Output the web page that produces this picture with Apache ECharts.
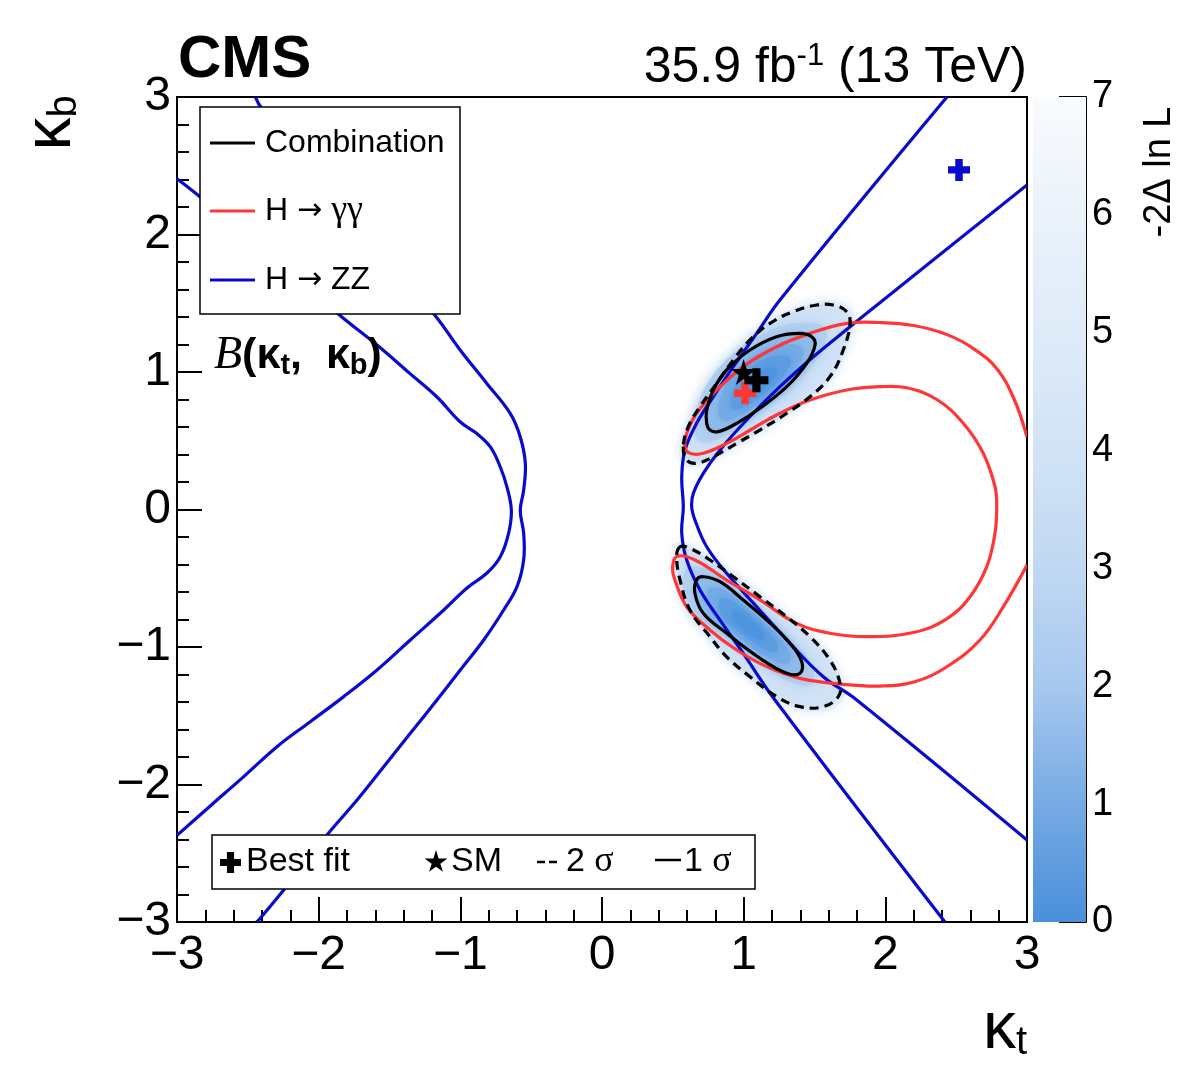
<!DOCTYPE html>
<html>
<head>
<meta charset="utf-8">
<script src="https://cdn.jsdelivr.net/npm/echarts@6/dist/echarts.min.js"></script>
<style>html,body{margin:0;padding:0;background:#fff;}#c{width:1182px;height:1086px;}</style>
</head>
<body>
<div id="c"></div>
<script>
// ---------- data (kappa_t, kappa_b) ----------
const xTicks = [-3, -2, -1, 0, 1, 2, 3];
const yTicks = [-3, -2, -1, 0, 1, 2, 3];
const zTicks = [0, 1, 2, 3, 4, 5, 6, 7];

const zzInnerLeft = [[-2.447,3.0],[-2.40,2.915],[-1.188,1.424],[-1.0,1.158],[-0.812,0.915],[-0.647,0.697],[-0.577,0.527],[-0.541,0.333],[-0.553,0.14],[-0.577,-0.006],[-0.553,-0.173],[-0.553,-0.367],[-0.60,-0.561],[-0.694,-0.731],[-0.835,-0.949],[-1.0,-1.167],[-1.165,-1.385],[-1.353,-1.628],[-1.541,-1.871],[-1.729,-2.113],[-1.941,-2.367],[-2.247,-2.767],[-2.423,-2.985],[-2.44,-3.0]];
const zzOuterLeft = [[-3.0,2.406],[-2.836,2.273],[-1.847,1.409],[-1.588,1.196],[-1.355,0.988],[-1.165,0.818],[-1.0,0.636],[-0.882,0.551],[-0.788,0.455],[-0.718,0.309],[-0.671,0.164],[-0.64,-0.004],[-0.659,-0.171],[-0.718,-0.343],[-0.812,-0.462],[-0.953,-0.571],[-1.117,-0.731],[-1.353,-0.949],[-1.588,-1.167],[-1.823,-1.361],[-2.059,-1.543],[-2.294,-1.725],[-2.529,-1.943],[-2.765,-2.156],[-3.0,-2.37]];
const zzRightOuter = [[2.435,3.0],[1.256,1.524],[1.092,1.281],[0.927,1.039],[0.786,0.82],[0.668,0.627],[0.586,0.433],[0.563,0.239],[0.574,0.02],[0.563,-0.173],[0.598,-0.367],[0.692,-0.585],[0.833,-0.804],[0.997,-1.046],[1.221,-1.385],[2.421,-3.0]];
const zzRightInner = [[3.0,2.36],[1.986,1.524],[1.751,1.329],[1.492,1.111],[1.256,0.893],[1.021,0.651],[0.833,0.433],[0.715,0.263],[0.645,0.118],[0.633,0.02],[0.656,-0.076],[0.739,-0.271],[0.88,-0.464],[1.092,-0.707],[1.327,-0.973],[1.562,-1.216],[1.798,-1.385],[3.0,-2.404]];
const ggContour = [[3.0,0.527],[2.91,0.80],[2.79,1.02],[2.63,1.165],[2.44,1.27],[2.2,1.338],[1.962,1.36],[1.727,1.354],[1.468,1.281],[1.233,1.184],[0.997,1.039],[0.81,0.869],[0.668,0.70],[0.598,0.554],[0.586,0.457],[0.621,0.409],[0.715,0.409],[0.88,0.481],[1.068,0.591],[1.256,0.70],[1.468,0.796],[1.727,0.869],[1.962,0.893],[2.151,0.885],[2.363,0.80],[2.55,0.627],[2.691,0.409],[2.774,0.166],[2.786,0.02],[2.774,-0.173],[2.716,-0.416],[2.598,-0.634],[2.433,-0.795],[2.197,-0.895],[1.868,-0.925],[1.609,-0.90],[1.374,-0.828],[1.115,-0.658],[0.88,-0.513],[0.656,-0.367],[0.53,-0.34],[0.498,-0.42],[0.515,-0.513],[0.598,-0.707],[0.762,-0.876],[0.951,-1.022],[1.163,-1.143],[1.398,-1.228],[1.68,-1.269],[1.962,-1.284],[2.2,-1.255],[2.44,-1.14],[2.668,-0.949],[2.833,-0.707],[3.0,-0.404]];
const comb1sTop = [[0.739,0.627],[0.762,0.578],[0.821,0.566],[0.951,0.627],[1.115,0.736],[1.304,0.893],[1.445,1.063],[1.504,1.196],[1.48,1.257],[1.398,1.281],[1.233,1.257],[1.045,1.16],[0.88,1.015],[0.786,0.869],[0.739,0.724]];
const comb1sBot = [[0.668,-0.513],[0.656,-0.609],[0.715,-0.755],[0.88,-0.90],[1.115,-1.082],[1.304,-1.191],[1.398,-1.191],[1.41,-1.107],[1.327,-0.973],[1.163,-0.804],[0.997,-0.658],[0.833,-0.525],[0.715,-0.489]];
const comb2sTop = [[0.574,0.457],[0.598,0.36],[0.668,0.336],[0.786,0.384],[0.951,0.481],[1.115,0.578],[1.304,0.70],[1.468,0.82],[1.609,0.966],[1.703,1.16],[1.751,1.354],[1.727,1.439],[1.633,1.487],[1.515,1.487],[1.35,1.439],[1.186,1.354],[1.045,1.233],[0.927,1.087],[0.81,0.918],[0.692,0.748],[0.609,0.602]];
const comb2sBot = [[0.551,-0.271],[0.527,-0.343],[0.551,-0.513],[0.621,-0.731],[0.762,-0.925],[0.88,-1.071],[1.045,-1.216],[1.233,-1.361],[1.398,-1.434],[1.562,-1.434],[1.668,-1.361],[1.68,-1.264],[1.609,-1.095],[1.468,-0.925],[1.304,-0.78],[1.115,-0.634],[0.927,-0.489],[0.762,-0.367],[0.621,-0.282]];
const bestFitComb = [[1.09, 0.94]];
const smPoint = [[1.0, 1.0]];
const bestFitGG = [[1.01, 0.845]];
const bestFitZZ = [[2.52, 2.47]];

// ---------- styling ----------
const FONT = '"Liberation Sans", Arial, Helvetica, sans-serif';
const SERIF = '"Liberation Serif", "Times New Roman", serif';
const BLUE = '#0a0acc', RED = '#ff3636';
const PLUS = 'path://M33,0H67V33H100V67H67V100H33V67H0V33H33Z';
const STAR = 'path://M50,0L61,35L98,35L68,57L79,91L50,70L21,91L32,57L2,35L39,35Z';
const PLUS_PTS = [[33,0],[67,0],[67,33],[100,33],[100,67],[67,67],[67,100],[33,100],[33,67],[0,67],[0,33],[33,33]];
const STAR_PTS = [[50,0],[61,35],[98,35],[68,57],[79,91],[50,70],[21,91],[32,57],[2,35],[39,35]];
const place = (pts, x, y, k) => pts.map(p => [x + p[0] * k, y + p[1] * k]);
const minusFmt = v => (v < 0 ? '\u2212' + Math.abs(v) : String(v));

const blobs = [{dash: comb2sTop, solid: comb1sTop}, {dash: comb2sBot, solid: comb1sBot}];
function bboxCenter(pts) {
  let x0 = Infinity, x1 = -Infinity, y0 = Infinity, y1 = -Infinity;
  pts.forEach(p => { x0 = Math.min(x0, p[0]); x1 = Math.max(x1, p[0]); y0 = Math.min(y0, p[1]); y1 = Math.max(y1, p[1]); });
  return [(x0 + x1) / 2, (y0 + y1) / 2];
}
function shadeItem(params, api) {
  const b = blobs[params.dataIndex];
  const d = b.dash.map(p => api.coord(p));
  const s = b.solid.map(p => api.coord(p));
  const dc = bboxCenter(d), sc = bboxCenter(s);
  const layers = [
    [d, dc, 1.05, '#e8f1fb', 14],
    [d, dc, 1.0, '#d0e2f6', 10],
    [s, sc, 1.22, '#b2cff0', 14],
    [s, sc, 1.0, '#8fbbeb', 8],
    [s, sc, 0.78, '#74abe7', 8],
    [s, sc, 0.55, '#5c9de2', 8],
    [s, sc, 0.3, '#4d93de', 6]
  ];
  return {
    type: 'group',
    children: layers.map(([pts, c, k, col, bl]) => ({
      type: 'polygon', x: c[0], y: c[1], scaleX: k, scaleY: k,
      shape: {points: pts.map(p => [p[0] - c[0], p[1] - c[1]]), smooth: 0.35},
      style: {fill: col, shadowBlur: bl, shadowColor: col}
    }))
  };
}
// contour line drawn through the cartesian scales (api.coord)
function contour(data, color, dashed, isClosed, z) {
  return {
    type: 'custom', coordinateSystem: 'cartesian2d', xAxisIndex: 0, yAxisIndex: 0, silent: true, clip: true, z: z || 3,
    data: [[0]],
    renderItem: (params, api) => ({
      type: isClosed ? 'polygon' : 'polyline',
      shape: {points: data.map(p => api.coord(p)), smooth: 0.4},
      style: {stroke: color, lineWidth: 3.2, fill: 'none', lineDash: dashed ? [9, 6] : null, lineJoin: 'round'}
    })
  };
}
function marker(data, sym, size, color) {
  return {type: 'scatter', data, symbol: sym, symbolSize: size, silent: true, z: 6, itemStyle: {color, opacity: 1}};
}

const axisCommon = {
  type: 'value', min: -3, max: 3, interval: 1,
  axisLine: {onZero: false, lineStyle: {color: '#000', width: 2}},
  axisTick: {inside: true, length: 25, lineStyle: {color: '#000', width: 2}},
  minorTick: {show: true, splitNumber: 5, length: 12, lineStyle: {color: '#000', width: 2}},
  splitLine: {show: false}, minorSplitLine: {show: false},
  axisLabel: {fontSize: 48, color: '#000', fontFamily: FONT, formatter: minusFmt, showMinLabel: true, showMaxLabel: true}
};

const chart = echarts.init(document.getElementById('c'), null, {renderer: 'canvas'});
chart.setOption({
  animation: false,
  backgroundColor: '#fff',
  grid: [
    {left: 177, top: 97, width: 850, height: 825, show: true, borderColor: '#000', borderWidth: 2, backgroundColor: '#fff'},
    {left: 1033, top: 97, width: 53, height: 825, show: false}
  ],
  xAxis: [
    Object.assign({}, axisCommon, {gridIndex: 0, axisLabel: Object.assign({}, axisCommon.axisLabel, {margin: 10})}),
    {gridIndex: 1, type: 'category', data: ['z'], show: false}
  ],
  yAxis: [
    Object.assign({}, axisCommon, {gridIndex: 0, axisLabel: Object.assign({}, axisCommon.axisLabel, {margin: 6})}),
    {gridIndex: 1, type: 'value', min: 0, max: 7, interval: 1, position: 'right',
      axisLine: {show: true, lineStyle: {color: '#000', width: 2}},
      axisTick: {show: true, inside: true, length: 27, lineStyle: {color: '#000', width: 2}},
      splitLine: {show: false},
      axisLabel: {fontSize: 38, color: '#000', fontFamily: FONT, margin: 6, showMinLabel: true, showMaxLabel: true}}
  ],
  series: [
    {type: 'custom', coordinateSystem: 'cartesian2d', xAxisIndex: 0, yAxisIndex: 0, silent: true, z: 1,
      renderItem: shadeItem, data: blobs.map((b, i) => [i])},
    contour(zzOuterLeft, BLUE), contour(zzInnerLeft, BLUE), contour(zzRightOuter, BLUE), contour(zzRightInner, BLUE),
    contour(ggContour, RED, false, false, 4),
    contour(comb2sTop, '#000', true, true, 5), contour(comb2sBot, '#000', true, true, 5),
    contour(comb1sTop, '#000', false, true, 5), contour(comb1sBot, '#000', false, true, 5),
    marker(bestFitGG, PLUS, 22, RED),
    marker(bestFitZZ, PLUS, 22, BLUE),
    marker(smPoint, STAR, 26, '#000'),
    marker(bestFitComb, PLUS, 24, '#000'),
    {type: 'bar', xAxisIndex: 1, yAxisIndex: 1, data: zTicks.slice(-1), barWidth: '100%', silent: true,
      itemStyle: {color: new echarts.graphic.LinearGradient(0, 1, 0, 0, [
        {offset: 0, color: '#4a8fdb'}, {offset: 1/7, color: '#77aae4'}, {offset: 2/7, color: '#a7c8ee'},
        {offset: 3/7, color: '#c0d8f2'}, {offset: 4/7, color: '#d2e3f6'}, {offset: 5/7, color: '#dfebf8'},
        {offset: 6/7, color: '#eaf2fa'}, {offset: 1, color: '#f9fbfe'}])}}
  ],
  graphic: {elements: [
    {type: 'text', x: 178, y: 60, z: 100, style: {text: 'CMS', fontSize: 60, fontWeight: 'bold', fontFamily: FONT, fill: '#000', align: 'left', verticalAlign: 'middle'}},
    {type: 'text', x: 1027, y: 68, z: 100, style: {text: '{a|35.9 fb}{s|-1}{a| (13 TeV)}', align: 'right', verticalAlign: 'middle', fill: '#000',
      rich: {a: {fontSize: 50, fontFamily: FONT, fill: '#000'}, s: {fontSize: 31, fontFamily: FONT, fill: '#000', padding: [0, 0, 24, 0]}}}},
    {type: 'text', x: 52, y: 123, rotation: Math.PI / 2, z: 100, style: {text: '{k|\u03ba}{s|b}', align: 'center', verticalAlign: 'middle',
      rich: {k: {fontSize: 66, fontFamily: FONT, fill: '#000'}, s: {fontSize: 40, fontFamily: FONT, fill: '#000', padding: [26, 0, 0, 0]}}}},
    {type: 'text', x: 1027, y: 1030, z: 100, style: {text: '{k|\u03ba}{s|t}', align: 'right', verticalAlign: 'middle',
      rich: {k: {fontSize: 66, fontFamily: FONT, fill: '#000'}, s: {fontSize: 40, fontFamily: FONT, fill: '#000', padding: [26, 0, 0, 0]}}}},
    {type: 'text', x: 1160, y: 172, rotation: Math.PI / 2, z: 100, style: {text: '-2\u0394 ln L', fontSize: 38, fontFamily: FONT, fill: '#000', align: 'center', verticalAlign: 'middle'}},
    {type: 'text', x: 214, y: 356, z: 100, style: {text: '{b|B}{p|(\u03ba}{s|t}{p|,  \u03ba}{s|b}{p|)}', align: 'left', verticalAlign: 'middle',
      rich: {b: {fontSize: 46, fontStyle: 'italic', fontFamily: SERIF, fill: '#000'},
        p: {fontSize: 43, fontWeight: 'bold', fontFamily: FONT, fill: '#000'},
        s: {fontSize: 29, fontWeight: 'bold', fontFamily: FONT, fill: '#000', padding: [20, 0, 0, 0]}}}},
    // upper legend
    {type: 'rect', z: 100, shape: {x: 200, y: 107, width: 260, height: 207}, style: {fill: '#fff', stroke: '#000', lineWidth: 1.5}},
    {type: 'line', z: 101, shape: {x1: 210, y1: 143, x2: 255, y2: 143}, style: {stroke: '#000', lineWidth: 3}},
    {type: 'line', z: 101, shape: {x1: 210, y1: 211, x2: 255, y2: 211}, style: {stroke: RED, lineWidth: 3}},
    {type: 'line', z: 101, shape: {x1: 210, y1: 280, x2: 255, y2: 280}, style: {stroke: BLUE, lineWidth: 3}},
    {type: 'text', x: 265, y: 143, z: 101, style: {text: 'Combination', fontSize: 32, fontFamily: FONT, fill: '#000', verticalAlign: 'middle'}},
    {type: 'text', x: 265, y: 211, z: 101, style: {text: '{a|H }{r|\u2192}{g| \u03b3\u03b3}', verticalAlign: 'middle',
      rich: {a: {fontSize: 32, fontFamily: FONT, fill: '#000'}, r: {fontSize: 30, fontFamily: '"DejaVu Sans", sans-serif', fill: '#000'}, g: {fontSize: 36, fontFamily: SERIF, fill: '#000'}}}},
    {type: 'text', x: 265, y: 280, z: 101, style: {text: '{a|H }{r|\u2192}{a| ZZ}', verticalAlign: 'middle',
      rich: {a: {fontSize: 32, fontFamily: FONT, fill: '#000'}, r: {fontSize: 30, fontFamily: '"DejaVu Sans", sans-serif', fill: '#000'}}}},
    // lower legend
    {type: 'rect', z: 100, shape: {x: 212, y: 835, width: 543, height: 54}, style: {fill: '#fff', stroke: '#000', lineWidth: 1.5}},
    {type: 'polygon', z: 101, shape: {points: place(PLUS_PTS, 220, 852, 0.21)}, style: {fill: '#000'}},
    {type: 'text', x: 246, y: 862, z: 101, style: {text: 'Best fit', fontSize: 34, fontFamily: FONT, fill: '#000', verticalAlign: 'middle'}},
    {type: 'polygon', z: 101, shape: {points: place(STAR_PTS, 424, 850, 0.24)}, style: {fill: '#000'}},
    {type: 'text', x: 451, y: 862, z: 101, style: {text: 'SM', fontSize: 34, fontFamily: FONT, fill: '#000', verticalAlign: 'middle'}},
    {type: 'line', z: 101, shape: {x1: 537, y1: 862, x2: 545, y2: 862}, style: {stroke: '#000', lineWidth: 2.5}},
    {type: 'line', z: 101, shape: {x1: 549, y1: 862, x2: 557, y2: 862}, style: {stroke: '#000', lineWidth: 2.5}},
    {type: 'text', x: 566, y: 862, z: 101, style: {text: '{a|2 }{g|\u03c3}', verticalAlign: 'middle',
      rich: {a: {fontSize: 34, fontFamily: FONT, fill: '#000'}, g: {fontSize: 36, fontFamily: SERIF, fill: '#000'}}}},
    {type: 'line', z: 101, shape: {x1: 655, y1: 860, x2: 681, y2: 860}, style: {stroke: '#000', lineWidth: 2.5}},
    {type: 'text', x: 684, y: 862, z: 101, style: {text: '{a|1 }{g|\u03c3}', verticalAlign: 'middle',
      rich: {a: {fontSize: 34, fontFamily: FONT, fill: '#000'}, g: {fontSize: 36, fontFamily: SERIF, fill: '#000'}}}}
  ]}
});
</script>
</body>
</html>
